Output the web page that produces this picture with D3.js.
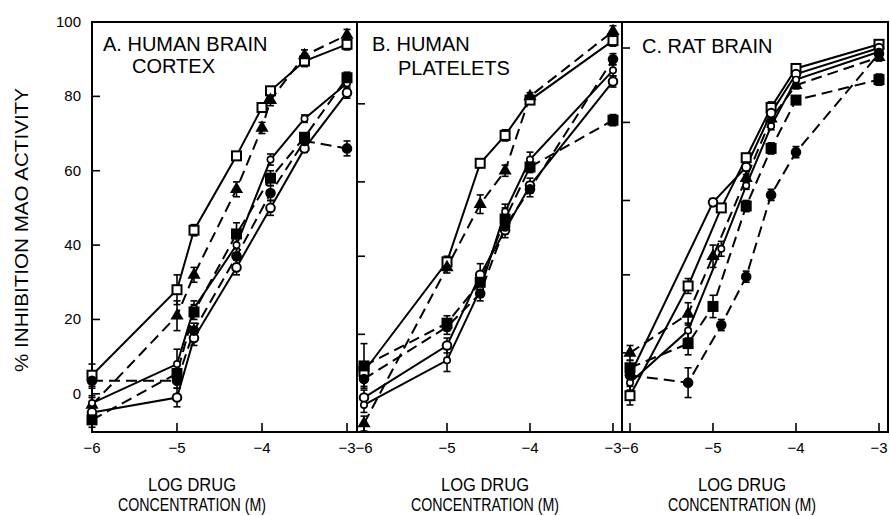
<!DOCTYPE html>
<html lang="en">
<head>
<meta charset="UTF-8">
<title>MAO inhibition</title>
<style>
  body { margin: 0; background: #fff; }
  text { font-family: "Liberation Sans", Arial, Helvetica, sans-serif; fill: #000; }
</style>
</head>
<body>
<svg id="svg" width="890" height="516"></svg>
<script src="https://d3js.org/d3.v7.min.js"></script>
<script>
// ---- data ----
const xTicks = [-6, -5, -4, -3]
const yTickLabels = [0, 20, 40, 60, 80, 100]
// the inner tick marks of each panel (B and C were drawn on their own grids)
const innerTicks = [[0, 20, 40, 60, 80], [16, 37, 57, 78], [11, 32, 52, 73, 93]]
const titles = [["A. HUMAN BRAIN", "CORTEX"], ["B. HUMAN", "PLATELETS"], ["C. RAT BRAIN"]]
const seriesKeys = ["openSquare", "filledTriangle", "openCircle", "smallCircle", "filledSquare", "filledCircle"]
const dashedKeys = ["filledTriangle", "filledSquare", "filledCircle"]

// points: [log M, % inhibition, s.e.]
const humanCortex = {
  openSquare:     [[-6, 5, 3], [-5, 28, 4], [-4.8, 44, 1.5], [-4.3, 64, 1], [-4, 77, 1], [-3.9, 81.5, 1], [-3.5, 89.5, 1.5], [-3, 94, 1.5]],
  filledTriangle: [[-6, -3, 2], [-5, 21, 4], [-4.8, 32, 2], [-4.3, 55, 2], [-4, 71.5, 1.5], [-3.9, 79, 1.5], [-3.5, 91, 1.5], [-3, 96.5, 1.5]],
  openCircle:     [[-6, -5, 2], [-5, -1, 2.5], [-4.8, 15, 2], [-4.3, 34, 2], [-3.9, 50, 2], [-3.5, 66, 1], [-3, 81, 1.5]],
  smallCircle:    [[-6, -2.5, 2], [-5, 8, 4], [-4.8, 23, 2], [-4.3, 40, 3], [-3.9, 63, 1.5], [-3.5, 74, 1], [-3, 83.5, 1.5]],
  filledSquare:   [[-6, -7, 2], [-5, 5.5, 2], [-4.8, 22, 2], [-4.3, 43, 3], [-3.9, 58, 2], [-3.5, 69, 1], [-3, 85, 1.5]],
  filledCircle:   [[-6, 3.5, 2], [-5, 3.5, 2], [-4.8, 17, 2], [-4.3, 37, 2], [-3.9, 54, 2], [-3.5, 68, 1.5], [-3, 66, 2]]
}
const humanPlatelets = {
  openSquare:     [[-6, 6, 2], [-5, 35.5, 1.5], [-4.6, 62, 1], [-4.3, 69.5, 1.5], [-4, 79, 1], [-3, 95, 1.5]],
  filledTriangle: [[-6, -8, 2], [-5, 34, 1.5], [-4.6, 51, 2.5], [-4.3, 60, 1.5], [-4, 80, 1], [-3, 97.5, 1.5]],
  openCircle:     [[-6, -1, 2], [-5, 13, 2], [-4.6, 32, 3], [-4.3, 44, 2], [-4, 56, 2], [-3, 84, 1.5]],
  smallCircle:    [[-6, -3, 2], [-5, 9, 3], [-4.6, 28, 2], [-4.3, 49, 2], [-4, 63, 2], [-3, 87, 1.5]],
  filledSquare:   [[-6, 7.5, 6], [-5, 19, 2], [-4.6, 30, 2], [-4.3, 47, 3], [-4, 61, 1.5], [-3, 73.6, 1.5]],
  filledCircle:   [[-6, 4, 2], [-5, 18, 2], [-4.6, 27, 2], [-4.3, 45, 2], [-4, 55, 2], [-3, 90, 1.5]]
}
const ratBrain = {
  openSquare:     [[-6, -0.5, 2.5], [-5.3, 29, 2], [-4.9, 50, 1], [-4.6, 63.5, 1], [-4.3, 77, 1.5], [-4, 87.5, 1], [-3, 94, 1]],
  filledTriangle: [[-6, 11, 2], [-5.3, 21.5, 3], [-5, 37, 3], [-4.6, 58, 1], [-4.3, 74, 1.5], [-4, 83, 1], [-3, 90.5, 1]],
  openCircle:     [[-6, 5, 2], [-5, 51.5, 1], [-4.6, 61, 1], [-4.3, 75.5, 1], [-4, 86, 1], [-3, 93, 1]],
  smallCircle:    [[-6, 3, 2], [-5.3, 17, 2], [-4.9, 39, 2], [-4.6, 56, 1], [-4.3, 72, 1], [-4, 84.5, 1], [-3, 92, 1]],
  filledSquare:   [[-6, 7, 2], [-5.3, 13.5, 3], [-5, 23.5, 3], [-4.6, 50.5, 1.5], [-4.3, 66, 1.5], [-4, 79, 1], [-3, 84.5, 1.5]],
  filledCircle:   [[-6, 5, 2], [-5.3, 3, 4], [-4.9, 18.5, 1.5], [-4.6, 31.5, 1.5], [-4.3, 53.5, 1.5], [-4, 65, 1.5], [-3, 91.5, 1]]
}
const panelData = [humanCortex, humanPlatelets, ratBrain]

// ---- layout ----
const frames = [
  { left: 92,  right: 357, lo: 92,  hi: 347, titleX: [103, 132], titleY: [51, 73], axisX: 192 },
  { left: 357, right: 622, lo: 364, hi: 613, titleX: [372, 398], titleY: [51, 75], axisX: 485 },
  { left: 622, right: 888, lo: 630, hi: 879, titleX: [642],      titleY: [53],     axisX: 742 }
]
const frameTop = 22, frameBottom = 432

const svg = d3.select('#svg')
const y = d3.scaleLinear().domain([-10, 100]).range([431, 22])
const minus = d => (d < 0 ? '\u2212' : '') + Math.abs(d)

// outer frame
svg.append('rect')
  .attr('x', frames[0].left).attr('y', frameTop)
  .attr('width', frames[2].right - frames[0].left).attr('height', frameBottom - frameTop)
  .attr('fill', 'none').attr('stroke', '#000').attr('stroke-width', 2)
svg.selectAll('line.divider')
  .data([357, 622])
  .join('line')
  .attr('x1', d => d).attr('x2', d => d)
  .attr('y1', frameTop).attr('y2', frameBottom)
  .attr('stroke', '#000').attr('stroke-width', 2)

// y tick labels (left only)
svg.selectAll('text.ylab')
  .data(yTickLabels)
  .join('text')
  .attr('x', 81).attr('y', d => y(d) + 5)
  .attr('text-anchor', 'end')
  .attr('font-size', 15)
  .text(d => d)

// y axis title
svg.append('text')
  .attr('transform', 'translate(28,230) rotate(-90)')
  .attr('text-anchor', 'middle')
  .attr('font-size', 18)
  .attr('textLength', 284).attr('lengthAdjust', 'spacingAndGlyphs')
  .text('% INHIBITION MAO ACTIVITY')

const line = d3.line()

frames.forEach((f, i) => {
  const x = d3.scaleLinear().domain([-6, -3]).range([f.lo, f.hi])
  const g = svg.append('g')
  const data = panelData[i]

  // inner y ticks
  g.selectAll('line.yt')
    .data(innerTicks[i])
    .join('line')
    .attr('x1', f.left).attr('x2', f.left + 8)
    .attr('y1', d => y(d)).attr('y2', d => y(d))
    .attr('stroke', '#000').attr('stroke-width', 1.6)

  // x ticks and labels
  g.selectAll('line.xt')
    .data(xTicks)
    .join('line')
    .attr('x1', d => x(d)).attr('x2', d => x(d))
    .attr('y1', frameBottom).attr('y2', frameBottom - 9)
    .attr('stroke', '#000').attr('stroke-width', 1.6)
  g.selectAll('text.xl')
    .data(xTicks)
    .join('text')
    .attr('x', d => x(d)).attr('y', 453)
    .attr('text-anchor', 'middle')
    .attr('font-size', 15)
    .text(minus)

  // x axis title
  g.append('text').attr('x', f.axisX).attr('y', 491)
    .attr('text-anchor', 'middle').attr('font-size', 19)
    .attr('textLength', 88).attr('lengthAdjust', 'spacingAndGlyphs')
    .text('LOG DRUG')
  g.append('text').attr('x', f.axisX).attr('y', 511)
    .attr('text-anchor', 'middle').attr('font-size', 19)
    .attr('textLength', 148).attr('lengthAdjust', 'spacingAndGlyphs')
    .text('CONCENTRATION (M)')

  // panel title
  titles[i].forEach((t, j) => {
    g.append('text')
      .attr('x', f.titleX[j]).attr('y', f.titleY[j])
      .attr('font-size', 20)
      .text(t)
  })

  // connecting lines
  seriesKeys.forEach(k => {
    g.append('path')
      .attr('d', line(data[k].map(p => [x(p[0]), y(p[1])])))
      .attr('fill', 'none')
      .attr('stroke', '#000')
      .attr('stroke-width', 2)
      .attr('stroke-dasharray', dashedKeys.includes(k) ? '11,6' : null)
  })

  // error bars
  seriesKeys.forEach(k => {
    const eb = g.append('g')
    data[k].forEach(p => {
      const cx = x(p[0]), y1 = y(p[1] - p[2]), y2 = y(p[1] + p[2])
      eb.append('line').attr('x1', cx).attr('x2', cx).attr('y1', y1).attr('y2', y2)
        .attr('stroke', '#000').attr('stroke-width', 1.6)
      ;[y1, y2].forEach(yy => eb.append('line')
        .attr('x1', cx - 3.5).attr('x2', cx + 3.5).attr('y1', yy).attr('y2', yy)
        .attr('stroke', '#000').attr('stroke-width', 1.6))
    })
  })

  // markers
  seriesKeys.forEach(k => {
    const m = g.append('g').selectAll('g').data(data[k]).join('g')
      .attr('transform', p => `translate(${x(p[0])},${y(p[1])})`)
    if (k === 'openSquare' || k === 'filledSquare') {
      m.append('rect').attr('x', -4.5).attr('y', -4.5).attr('width', 9).attr('height', 9)
        .attr('fill', k === 'openSquare' ? '#fff' : '#000')
        .attr('stroke', '#000').attr('stroke-width', 2)
    } else if (k === 'filledTriangle') {
      m.append('path').attr('d', d3.symbol(d3.symbolTriangle, 75)())
        .attr('fill', '#000')
    } else {
      m.append('circle')
        .attr('r', k === 'smallCircle' ? 3.2 : 4.3)
        .attr('fill', k === 'filledCircle' ? '#000' : '#fff')
        .attr('stroke', '#000').attr('stroke-width', k === 'smallCircle' ? 1.6 : 2)
    }
  })
})
</script>
</body>
</html>
